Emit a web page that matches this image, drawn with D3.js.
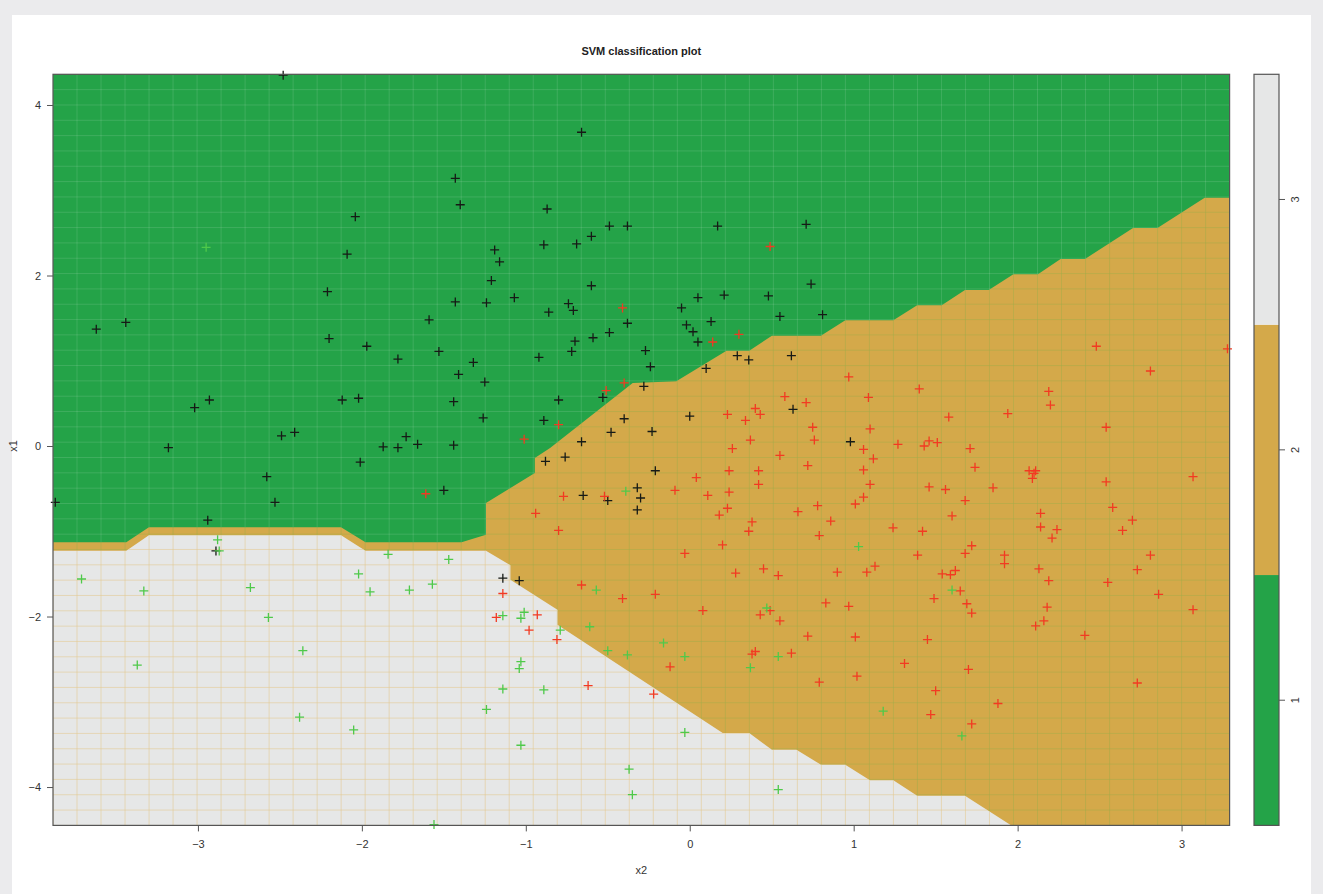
<!DOCTYPE html>
<html>
<head>
<meta charset="utf-8">
<script src="https://cdn.jsdelivr.net/npm/d3@7"></script>
<style>
  html, body { margin: 0; padding: 0; background: #ebebed; }
  svg { display: block; font-family: "Liberation Sans", Arial, sans-serif; }
</style>
</head>
<body>
<svg id="chart" width="1323" height="894"></svg>
<script>
// ---- data ----
const xRange = [-3.884, 3.293];
const yRange = [-4.45, 4.36];
const xTicks = [-3, -2, -1, 0, 1, 2, 3];
const yTicks = [-4, -2, 0, 2, 4];
const levels = [1, 2, 3];
const levelColors = ['#24a348', '#d4a94a', '#e6e7e7'];

// boundary between class 1 (top) and class 2, left to right
const boundary12 = [
  [-3.884, -1.13], [-3.437, -1.13], [-3.299, -0.954], [-2.127, -0.954], [-1.978, -1.13],
  [-1.392, -1.13], [-1.243, -1.04], [-1.243, -0.669], [-0.945, -0.317], [-0.945, -0.141],
  [-0.852, -0.023], [-0.348, 0.739], [-0.082, 0.759], [0.224, 1.118], [0.363, 1.118],
  [0.501, 1.294], [0.8, 1.294], [0.949, 1.474], [1.242, 1.474], [1.387, 1.65],
  [1.537, 1.65], [1.679, 1.83], [1.824, 1.83], [1.974, 2.014], [2.124, 2.014],
  [2.262, 2.194], [2.411, 2.194], [2.704, 2.557], [2.853, 2.557], [3.141, 2.913], [3.293, 2.913]
];
// boundary between class 2 and class 3 (bottom left), left to bottom edge
const boundary23 = [
  [-3.884, -1.228], [-3.437, -1.228], [-3.299, -1.047], [-2.127, -1.047], [-1.978, -1.228],
  [-1.243, -1.228], [-1.094, -1.399], [-1.094, -1.568], [-0.807, -1.92], [-0.807, -2.096],
  [0.201, -3.367], [0.363, -3.367], [0.501, -3.562], [0.651, -3.562], [0.8, -3.738],
  [0.949, -3.738], [1.099, -3.921], [1.242, -3.921], [1.387, -4.102], [1.679, -4.102], [1.962, -4.45]
];

const class1 = [
  [-2.48,4.35],[-0.66,3.68],[-1.43,3.14],[-1.40,2.83],[-2.04,2.69],[-0.87,2.78],[-0.49,2.58],[-0.38,2.58],
  [-0.60,2.46],[-0.89,2.36],[-0.69,2.37],[-1.19,2.30],[-1.16,2.16],[-2.09,2.25],[-1.21,1.94],[-0.60,1.88],
  [-2.21,1.81],[-1.43,1.69],[-1.24,1.68],[-1.07,1.74],[-0.86,1.57],[-0.74,1.67],[-0.71,1.59],[-0.38,1.44],
  [-1.59,1.48],[-3.62,1.37],[-3.44,1.45],[-2.20,1.26],[-1.97,1.17],[-1.78,1.02],[-1.53,1.11],[-1.32,0.98],
  [-1.41,0.84],[-1.25,0.75],[-0.92,1.04],[-0.72,1.11],[-0.70,1.23],[-0.59,1.27],[-0.49,1.33],[-0.80,0.54],
  [-0.53,0.57],[-0.40,0.32],[-0.48,0.16],[-0.66,0.05],[-0.89,0.30],[-1.26,0.33],[-1.44,0.52],[-2.12,0.54],
  [-2.02,0.56],[-3.02,0.45],[-2.93,0.54],[-2.49,0.12],[-2.41,0.16],[-3.18,-0.02],[-1.87,-0.01],[-1.78,-0.02],
  [-1.73,0.11],[-1.66,0.02],[-1.44,0.01],
  [0.17,2.58],[0.71,2.60],[0.74,1.90],[0.05,1.74],[0.21,1.77],[0.48,1.76],[-0.05,1.62],[0.55,1.52],
  [0.81,1.54],[-0.02,1.42],[0.13,1.46],[0.02,1.34],[0.05,1.22],[-0.27,1.12],[-0.24,0.93],[-0.28,0.70],
  [0.29,1.06],[0.36,1.01],[0.62,1.06],[0.10,0.91],[0.00,0.35],[0.63,0.43],[-0.23,0.17],[0.98,0.05],
  [-2.01,-0.19],[-2.58,-0.36],[-2.53,-0.66],[-2.94,-0.87],[-1.50,-0.52],[-0.88,-0.18],[-0.76,-0.13],
  [-0.65,-0.58],[-0.50,-0.64],[-0.32,-0.49],[-0.30,-0.61],[-0.32,-0.75],[-2.89,-1.23],[-1.14,-1.55],
  [-1.04,-1.58],[-3.87,-0.66],[-0.21,-0.29]
];
const class2 = [
  [-0.41,1.62],[-0.40,0.74],[-0.51,0.65],[-0.80,0.25],[-1.01,0.08],
  [0.49,2.34],[0.30,1.31],[0.14,1.22],[2.48,1.17],[2.81,0.88],[3.28,1.14],[0.97,0.81],[1.40,0.67],
  [0.58,0.58],[1.09,0.57],[0.71,0.51],[2.19,0.64],[2.20,0.48],[0.40,0.44],[0.43,0.37],[0.23,0.37],
  [0.34,0.30],[1.58,0.34],[1.94,0.38],[0.75,0.22],[1.10,0.20],[2.54,0.22],[0.37,0.07],[0.76,0.07],
  [1.27,0.02],[1.46,0.06],[1.43,0.00],[1.51,0.04],[0.26,-0.03],[1.06,-0.04],[1.71,-0.03],
  [-1.61,-0.56],[-0.77,-0.59],[-0.52,-0.59],[-0.94,-0.79],[-0.80,-0.99],[-0.66,-1.63],[-0.41,-1.79],
  [-1.14,-1.73],[-1.18,-2.01],[-0.93,-1.98],[-0.98,-2.16],[-0.81,-2.27],[-0.62,-2.81],
  [0.55,-0.11],[1.12,-0.15],[0.72,-0.23],[0.24,-0.29],[0.42,-0.29],[1.06,-0.28],[1.74,-0.25],[0.04,-0.37],
  [0.42,-0.45],[1.10,-0.45],[-0.09,-0.52],[0.11,-0.58],[0.24,-0.54],[1.06,-0.60],[1.46,-0.48],[1.56,-0.51],
  [1.85,-0.49],[1.68,-0.64],[1.01,-0.68],[0.23,-0.73],[0.18,-0.81],[0.66,-0.77],[0.78,-0.70],[0.38,-0.89],
  [0.86,-0.88],[0.36,-1.00],[0.79,-1.05],[0.20,-1.16],[-0.03,-1.26],[1.24,-0.96],[1.42,-1.00],[1.60,-0.82],
  [2.07,-0.29],[2.11,-0.29],[2.09,-0.38],[2.10,-0.32],[2.54,-0.42],[3.07,-0.36],[2.14,-0.79],[2.58,-0.72],
  [2.70,-0.87],[2.14,-0.95],[2.24,-0.98],[2.21,-1.08],[2.64,-0.99],[1.72,-1.17],[1.68,-1.26],[1.39,-1.28],
  [1.92,-1.28],[1.92,-1.38],[2.13,-1.44],[2.73,-1.45],[2.81,-1.28],[2.19,-1.58],[2.55,-1.60],[2.86,-1.74],
  [3.07,-1.92],[2.18,-1.89],[2.16,-2.05],[2.11,-2.11],[2.41,-2.22],[2.73,-2.78],[-0.21,-1.74],[0.08,-1.93],
  [0.28,-1.49],[0.45,-1.44],[0.54,-1.52],[0.90,-1.48],[1.08,-1.48],[1.13,-1.41],[1.54,-1.50],[1.59,-1.51],
  [1.62,-1.46],[1.65,-1.70],[1.49,-1.79],[1.69,-1.85],[1.72,-1.96],[0.83,-1.84],[0.97,-1.88],[0.49,-1.93],
  [0.43,-1.98],[0.55,-2.05],[0.72,-2.23],[1.01,-2.24],[1.45,-2.27],[0.38,-2.44],[0.40,-2.41],[0.62,-2.43],
  [-0.12,-2.59],[1.31,-2.55],[1.70,-2.62],[0.79,-2.77],[1.02,-2.70],[1.50,-2.87],[1.88,-3.02],[1.47,-3.15],
  [1.72,-3.26],[-0.22,-2.91]
];
const class3 = [
  [-2.95,2.33],
  [-2.88,-1.10],[-2.87,-1.23],[-3.71,-1.56],[-3.33,-1.70],[-2.68,-1.66],[-2.57,-2.01],[-2.36,-2.40],
  [-3.37,-2.57],[-2.38,-3.18],[-2.05,-3.33],[-2.02,-1.50],[-1.95,-1.71],[-1.84,-1.27],[-1.71,-1.69],
  [-1.57,-1.62],[-1.47,-1.33],[-1.14,-1.99],[-1.03,-2.02],[-1.01,-1.95],[-1.03,-2.53],[-1.04,-2.61],
  [-1.14,-2.85],[-0.89,-2.86],[-1.24,-3.09],[-1.03,-3.51],[-0.37,-3.79],[-0.35,-4.09],[-1.56,-4.44],
  [-0.79,-2.16],[-0.57,-1.69],[-0.61,-2.12],[-0.50,-2.40],[-0.38,-2.45],[-0.39,-0.53],
  [1.03,-1.18],[1.60,-1.69],[0.47,-1.90],[-0.16,-2.31],[-0.03,-2.47],[0.54,-2.47],[0.37,-2.60],
  [1.18,-3.11],[1.66,-3.40],[-0.03,-3.36],[0.54,-4.03]
];
const pointSets = [
  {pts: class1, color: '#161a16'},
  {pts: class2, color: '#f23a22'},
  {pts: class3, color: '#4fc94a'}
];

// ---- layout ----
const plot = {left: 53, right: 1229.6, top: 74.3, bottom: 825.4};
const key = {left: 1254, right: 1279};
const gridN = 50;

const svg = d3.select('#chart');
svg.append('rect').attr('x', 12).attr('y', 15).attr('width', 1299).attr('height', 879).attr('fill', '#fff');

const x = d3.scaleLinear().domain(xRange).range([plot.left, plot.right]);
const y = d3.scaleLinear().domain(yRange).range([plot.bottom, plot.top]);
const line = d3.line().x(d => x(d[0])).y(d => y(d[1]));

const region1 = boundary12.concat([[xRange[1], yRange[1]], [xRange[0], yRange[1]]]);
const region3 = boundary23.concat([[xRange[0], yRange[0]]]);

const defs = svg.append('defs');
defs.append('clipPath').attr('id', 'clip1').append('path').attr('d', line(region1) + 'Z');
defs.append('clipPath').attr('id', 'clip3').append('path').attr('d', line(region3) + 'Z');
defs.append('clipPath').attr('id', 'clipAll').append('rect')
  .attr('x', plot.left).attr('y', plot.top)
  .attr('width', plot.right - plot.left).attr('height', plot.bottom - plot.top);

// grid seams from the 50x50 prediction grid
const gx = d3.range(gridN).map(i => xRange[0] + i * (xRange[1] - xRange[0]) / (gridN - 1));
const gy = d3.range(gridN).map(i => yRange[0] + i * (yRange[1] - yRange[0]) / (gridN - 1));
function seams(g, color, opacity) {
  g.selectAll('line.v').data(gx).enter().append('line').attr('class', 'v')
    .attr('x1', d => x(d)).attr('x2', d => x(d)).attr('y1', plot.top).attr('y2', plot.bottom);
  g.selectAll('line.h').data(gy).enter().append('line').attr('class', 'h')
    .attr('y1', d => y(d)).attr('y2', d => y(d)).attr('x1', plot.left).attr('x2', plot.right);
  g.selectAll('line').attr('stroke', color).attr('stroke-opacity', opacity).attr('stroke-width', 1);
}

// class 2 background
svg.append('rect')
  .attr('x', plot.left).attr('y', plot.top)
  .attr('width', plot.right - plot.left).attr('height', plot.bottom - plot.top)
  .attr('fill', levelColors[1]);
seams(svg.append('g').attr('clip-path', 'url(#clipAll)'), '#9fae4a', 0.45);

// class 1 region
svg.append('path').attr('d', line(region1) + 'Z').attr('fill', levelColors[0]);
seams(svg.append('g').attr('clip-path', 'url(#clip1)'), '#ffffff', 0.12);

// class 3 region
svg.append('path').attr('d', line(region3) + 'Z').attr('fill', levelColors[2]);
seams(svg.append('g').attr('clip-path', 'url(#clip3)'), '#e3c98e', 0.55);

// points
const arm = 4.5;
pointSets.forEach(s => {
  svg.append('g').selectAll('path').data(s.pts).enter().append('path')
    .attr('d', d => {
      const px = x(d[0]), py = y(d[1]);
      return `M${px - arm},${py}H${px + arm}M${px},${py - arm}V${py + arm}`;
    })
    .attr('stroke', s.color).attr('stroke-width', 1.3).attr('fill', 'none');
});

// box
svg.append('rect')
  .attr('x', plot.left).attr('y', plot.top)
  .attr('width', plot.right - plot.left).attr('height', plot.bottom - plot.top)
  .attr('fill', 'none').attr('stroke', '#555').attr('stroke-width', 1.2);

// axes
const xAxis = svg.append('g').attr('transform', `translate(0,${plot.bottom})`)
  .call(d3.axisBottom(x).tickValues(xTicks).tickSize(6).tickPadding(9).tickFormat(d3.format('d')));
const yAxis = svg.append('g').attr('transform', `translate(${plot.left},0)`)
  .call(d3.axisLeft(y).tickValues(yTicks).tickSize(6).tickPadding(6).tickFormat(d3.format('d')));
[xAxis, yAxis].forEach(a => {
  a.select('.domain').remove();
  a.selectAll('line').attr('stroke', '#555');
  a.selectAll('text').attr('fill', '#333').style('font-size', '11px')
    .style('font-family', '"Liberation Sans", Arial, sans-serif');
});

svg.append('text').attr('x', (plot.left + plot.right) / 2).attr('y', 874)
  .attr('text-anchor', 'middle').attr('font-size', 11).attr('fill', '#333').text('x2');
svg.append('text').attr('transform', `translate(17,${y(0)}) rotate(-90)`)
  .attr('text-anchor', 'middle').attr('font-size', 11).attr('fill', '#333').text('x1');
svg.append('text').attr('x', (plot.left + plot.right) / 2).attr('y', 55)
  .attr('text-anchor', 'middle').attr('font-size', 11).attr('font-weight', 'bold')
  .attr('fill', '#222').text('SVM classification plot');

// color key
const k = d3.scaleLinear().domain([0.5, 3.5]).range([plot.bottom, plot.top]);
svg.append('g').selectAll('rect').data(levels).enter().append('rect')
  .attr('x', key.left).attr('width', key.right - key.left)
  .attr('y', d => k(d + 0.5)).attr('height', d => k(d - 0.5) - k(d + 0.5))
  .attr('fill', (d, i) => levelColors[i]);
svg.append('rect').attr('x', key.left).attr('y', plot.top)
  .attr('width', key.right - key.left).attr('height', plot.bottom - plot.top)
  .attr('fill', 'none').attr('stroke', '#555').attr('stroke-width', 1.2);
svg.append('g').selectAll('line').data(levels).enter().append('line')
  .attr('x1', key.right).attr('x2', key.right + 6)
  .attr('y1', d => k(d)).attr('y2', d => k(d)).attr('stroke', '#555');
svg.append('g').selectAll('text').data(levels).enter().append('text')
  .attr('transform', d => `translate(${key.right + 20},${k(d)}) rotate(-90)`)
  .attr('text-anchor', 'middle').attr('font-size', 11).attr('fill', '#333').text(d => d);
</script>
</body>
</html>
